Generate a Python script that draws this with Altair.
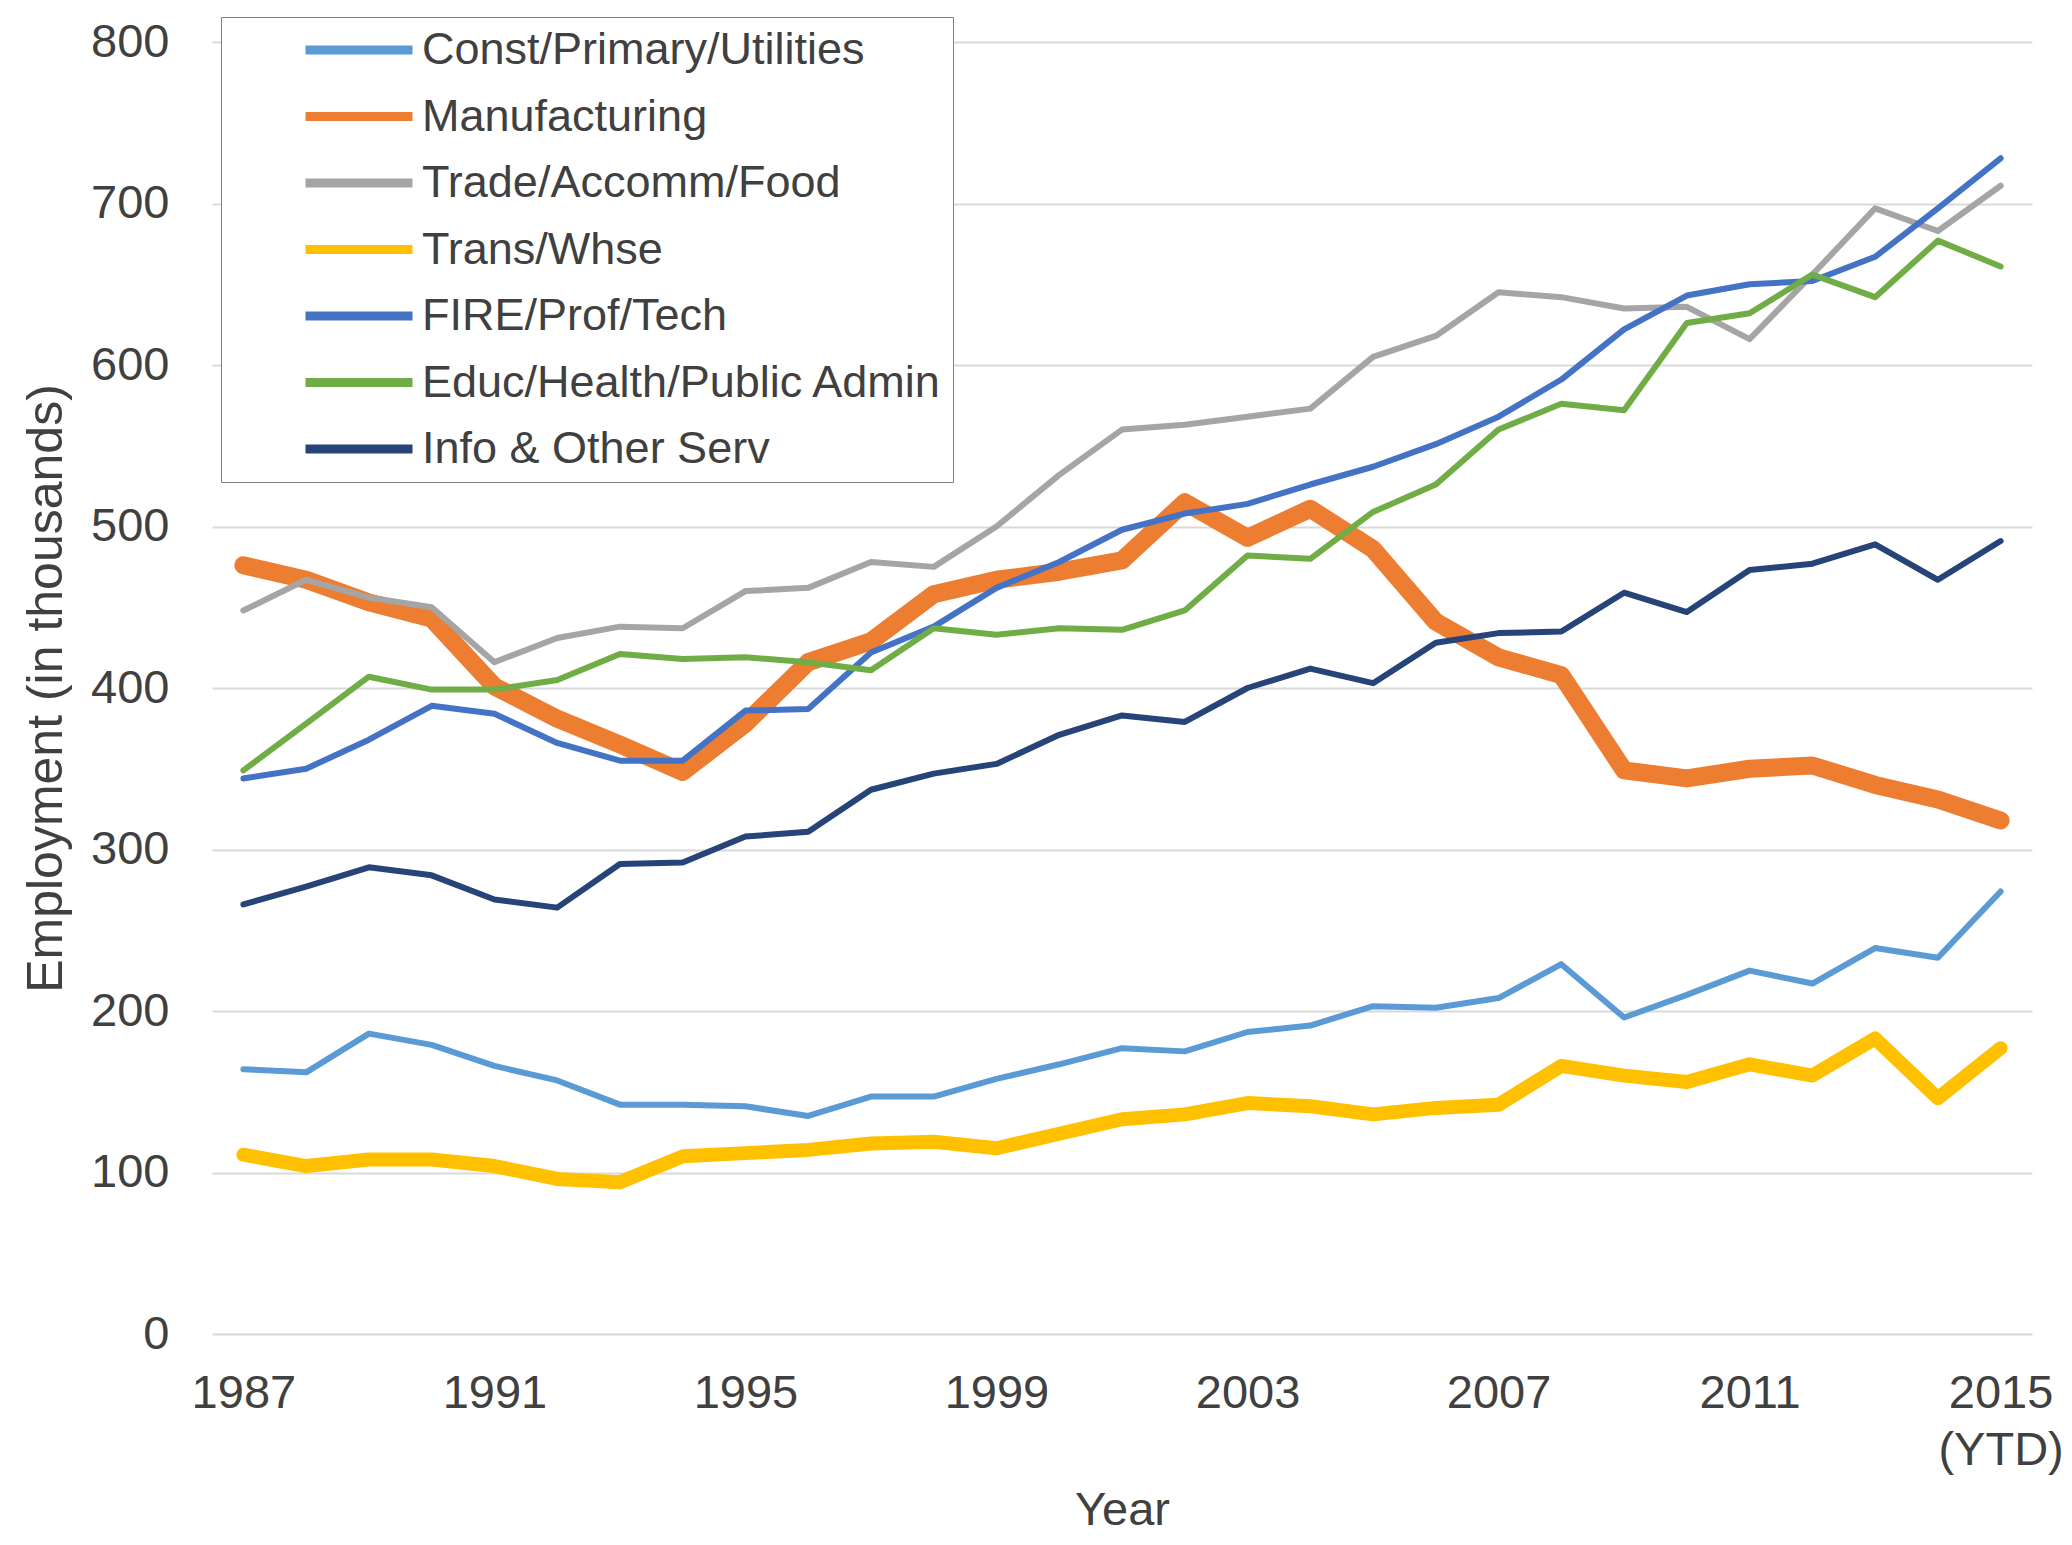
import altair as alt
import pandas as pd

years = list(range(1987, 2016))
series_names = [
    "Const/Primary/Utilities",
    "Manufacturing",
    "Trade/Accomm/Food",
    "Trans/Whse",
    "FIRE/Prof/Tech",
    "Educ/Health/Public Admin",
    "Info & Other Serv",
]

const_primary = [164, 162, 186, 179, 166, 157, 142, 142, 141, 135, 147, 147, 158, 167, 177,
                 175, 187, 191, 203, 202, 208, 229, 196, 210, 225, 217, 239, 233, 274]
manufacturing = [476, 467, 453, 443, 401, 381, 365, 348, 378, 416, 429, 458, 467, 472, 479,
                 515, 493, 511, 486, 441, 419, 408, 349, 344, 350, 352, 340, 331, 318]
trade = [448, 467, 456, 450, 416, 431, 438, 437, 460, 462, 478, 475, 500, 532, 560,
         563, 568, 573, 605, 618, 645, 642, 635, 636, 616, 656, 697, 683, 711]
trans = [111, 104, 108, 108, 104, 96, 94, 110, 112, 114, 118, 119, 115, 124, 133,
         136, 143, 141, 136, 140, 142, 166, 160, 156, 167, 160, 183, 146, 177]
fire = [344, 350, 368, 389, 384, 366, 355, 355, 386, 387, 422, 438, 462, 478, 498,
        508, 514, 526, 537, 551, 568, 591, 622, 643, 650, 652, 667, 697, 728]
educ = [349, 378, 407, 399, 399, 405, 421, 418, 419, 416, 411, 437, 433, 437, 436,
        448, 482, 480, 509, 526, 560, 576, 572, 626, 632, 656, 642, 677, 661]
info = [266, 277, 289, 284, 269, 264, 291, 292, 308, 311, 337, 347, 353, 371, 383,
        379, 400, 412, 403, 428, 434, 435, 459, 447, 473, 477, 489, 467, 491]

all_series = [const_primary, manufacturing, trade, trans, fire, educ, info]
colors = ["#5B9BD5", "#ED7D31", "#A5A5A5", "#FFC000", "#4472C4", "#70AD47", "#264478"]
widths = [6, 18, 6, 14, 6, 6, 6]

x_ticks = [1987, 1991, 1995, 1999, 2003, 2007, 2011, 2015]
y_ticks = [0, 100, 200, 300, 400, 500, 600, 700, 800]

rows = []
for name, vals in zip(series_names, all_series):
    for yr, v in zip(years, vals):
        rows.append({"Year": yr, "Series": name, "Value": v})
df = pd.DataFrame(rows)

FONT = "Liberation Sans"
TXT = "#404040"

x_enc = alt.X(
    "Year:Q",
    scale=alt.Scale(domain=[1986.5, 2015.5], nice=False, zero=False),
    axis=alt.Axis(
        values=x_ticks,
        format="d",
        labelExpr="datum.value == 2015 ? ['2015', '(YTD)'] : datum.label",
        grid=False,
        domain=False,
        ticks=False,
        labelFlush=False,
        labelOverlap=False,
        labelPadding=36,
        labelLineHeight=57,
        labelFontSize=47,
        labelFont=FONT,
        labelColor=TXT,
        title="Year",
        titleFont=FONT,
        titleFontSize=47,
        titleFontWeight="normal",
        titleColor=TXT,
        titleY=176,
        titleBaseline="middle",
    ),
)

y_enc = alt.Y(
    "Value:Q",
    scale=alt.Scale(domain=[0, 800], nice=False),
    axis=alt.Axis(
        values=y_ticks,
        grid=True,
        gridColor="#d9d9d9",
        gridWidth=2,
        domain=False,
        ticks=False,
        labelPadding=43,
        labelFontSize=47,
        labelFont=FONT,
        labelColor=TXT,
        title="Employment (in thousands)",
        titleFont=FONT,
        titleFontSize=50,
        titleFontWeight="normal",
        titleColor=TXT,
        titleAngle=270,
        titleX=-166,
        titleY=646,
        titleAlign="center",
        titleBaseline="middle",
    ),
)

color_enc = alt.Color(
    "Series:N",
    sort=series_names,
    scale=alt.Scale(domain=series_names, range=colors),
    legend=alt.Legend(
        title=None,
        orient="none",
        legendX=9,
        legendY=-25,
        padding=10,
        strokeColor="#7f7f7f",
        fillColor="white",
        symbolType="stroke",
        symbolSize=11449,
        symbolStrokeWidth=9,
        clipHeight=46,
        rowPadding=20.5,
        symbolOffset=70,
        labelOffset=5,
        labelFontSize=45,
        labelFont=FONT,
        labelColor=TXT,
        labelLimit=0,
    ),
)

layers = []
for name, w in zip(series_names, widths):
    layers.append(
        alt.Chart(df)
        .transform_filter(alt.datum.Series == name)
        .mark_line(strokeWidth=w, strokeJoin="round", strokeCap="round")
        .encode(x=x_enc, y=y_enc, color=color_enc)
    )

chart = alt.layer(*layers).properties(
    width=1820,
    height=1292,
    padding={"left": 204, "top": 34, "right": 32, "bottom": 203},
    autosize=alt.AutoSizeParams(type="none"),
    background="white",
).configure_view(strokeWidth=0)

chart.save("out.html", embed_options={"renderer": "svg", "actions": False})
